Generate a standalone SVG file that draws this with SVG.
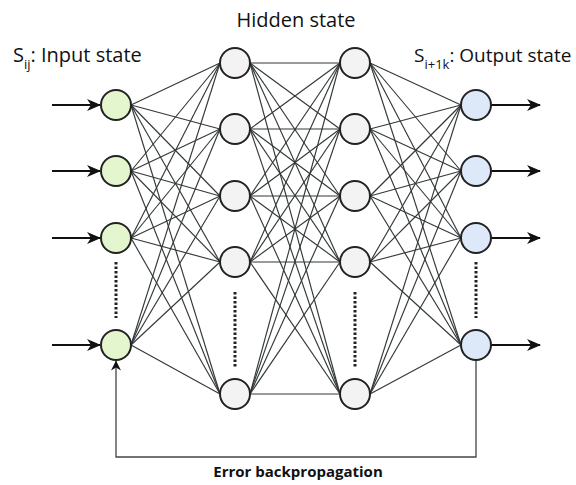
<svg xmlns="http://www.w3.org/2000/svg" width="576" height="485" viewBox="0 0 576 485">
<style>
.lbl{font-family:"Open Sans","Liberation Sans",sans-serif;font-size:20px;fill:#111}
.lbl2{font-family:"Open Sans","Liberation Sans",sans-serif;font-size:19px;fill:#111}
.sub{font-size:13px}
.err{font-family:"Open Sans","Liberation Sans",sans-serif;font-size:15px;font-weight:bold;fill:#111}
.conn line{stroke:#333838;stroke-width:1.15}
.arr{stroke:#111;stroke-width:2.2;fill:none}
.loop{stroke:#444;stroke-width:1.3;fill:none}
.node{stroke:#222;stroke-width:2}
.in{fill:#e3f6cd}
.hid{fill:#f3f3f3}
.out{fill:#dde9f8}
.dots{stroke:#222;stroke-width:3;stroke-dasharray:2.5 2}
</style>
<defs>
<marker id="ah" markerUnits="userSpaceOnUse" markerWidth="14" markerHeight="12" viewBox="0 0 14 12" refX="13" refY="6" orient="auto">
<path d="M0,0 L14,6 L0,12 L4,6 z" fill="#111"/>
</marker>
<marker id="ahs" markerUnits="userSpaceOnUse" markerWidth="10" markerHeight="10" viewBox="0 0 10 10" refX="9.5" refY="5" orient="auto">
<path d="M0,0 L10,5 L0,10 L3,5 z" fill="#111"/>
</marker>
</defs>
<rect width="576" height="485" fill="#fff"/>
<g id="connectors" class="conn">
<line x1="131" y1="105" x2="220" y2="63"/><line x1="131" y1="105" x2="220" y2="129"/><line x1="131" y1="105" x2="220" y2="196"/><line x1="131" y1="105" x2="220" y2="262"/><line x1="131" y1="105" x2="220" y2="394"/>
<line x1="131" y1="171" x2="220" y2="63"/><line x1="131" y1="171" x2="220" y2="129"/><line x1="131" y1="171" x2="220" y2="196"/><line x1="131" y1="171" x2="220" y2="262"/><line x1="131" y1="171" x2="220" y2="394"/>
<line x1="131" y1="238" x2="220" y2="63"/><line x1="131" y1="238" x2="220" y2="129"/><line x1="131" y1="238" x2="220" y2="196"/><line x1="131" y1="238" x2="220" y2="262"/><line x1="131" y1="238" x2="220" y2="394"/>
<line x1="131" y1="345" x2="220" y2="63"/><line x1="131" y1="345" x2="220" y2="129"/><line x1="131" y1="345" x2="220" y2="196"/><line x1="131" y1="345" x2="220" y2="262"/><line x1="131" y1="345" x2="220" y2="394"/>
<line x1="250" y1="63" x2="340" y2="63"/><line x1="250" y1="63" x2="340" y2="129"/><line x1="250" y1="63" x2="340" y2="196"/><line x1="250" y1="63" x2="340" y2="262"/><line x1="250" y1="63" x2="340" y2="394"/>
<line x1="250" y1="129" x2="340" y2="63"/><line x1="250" y1="129" x2="340" y2="129"/><line x1="250" y1="129" x2="340" y2="196"/><line x1="250" y1="129" x2="340" y2="262"/><line x1="250" y1="129" x2="340" y2="394"/>
<line x1="250" y1="196" x2="340" y2="63"/><line x1="250" y1="196" x2="340" y2="129"/><line x1="250" y1="196" x2="340" y2="196"/><line x1="250" y1="196" x2="340" y2="262"/><line x1="250" y1="196" x2="340" y2="394"/>
<line x1="250" y1="262" x2="340" y2="63"/><line x1="250" y1="262" x2="340" y2="129"/><line x1="250" y1="262" x2="340" y2="196"/><line x1="250" y1="262" x2="340" y2="262"/><line x1="250" y1="262" x2="340" y2="394"/>
<line x1="250" y1="394" x2="340" y2="63"/><line x1="250" y1="394" x2="340" y2="129"/><line x1="250" y1="394" x2="340" y2="196"/><line x1="250" y1="394" x2="340" y2="262"/><line x1="250" y1="394" x2="340" y2="394"/>
<line x1="370" y1="63" x2="461" y2="105"/><line x1="370" y1="63" x2="461" y2="171"/><line x1="370" y1="63" x2="461" y2="238"/><line x1="370" y1="63" x2="461" y2="345"/>
<line x1="370" y1="129" x2="461" y2="105"/><line x1="370" y1="129" x2="461" y2="171"/><line x1="370" y1="129" x2="461" y2="238"/><line x1="370" y1="129" x2="461" y2="345"/>
<line x1="370" y1="196" x2="461" y2="105"/><line x1="370" y1="196" x2="461" y2="171"/><line x1="370" y1="196" x2="461" y2="238"/><line x1="370" y1="196" x2="461" y2="345"/>
<line x1="370" y1="262" x2="461" y2="105"/><line x1="370" y1="262" x2="461" y2="171"/><line x1="370" y1="262" x2="461" y2="238"/><line x1="370" y1="262" x2="461" y2="345"/>
<line x1="370" y1="394" x2="461" y2="105"/><line x1="370" y1="394" x2="461" y2="171"/><line x1="370" y1="394" x2="461" y2="238"/><line x1="370" y1="394" x2="461" y2="345"/>
<path class="arr" d="M52,105 H100" marker-end="url(#ah)"/>
<path class="arr" d="M52,171 H100" marker-end="url(#ah)"/>
<path class="arr" d="M52,238 H100" marker-end="url(#ah)"/>
<path class="arr" d="M52,345 H100" marker-end="url(#ah)"/>
<path class="arr" d="M491,105 H540" marker-end="url(#ah)"/>
<path class="arr" d="M491,171 H540" marker-end="url(#ah)"/>
<path class="arr" d="M491,238 H540" marker-end="url(#ah)"/>
<path class="arr" d="M491,345 H540" marker-end="url(#ah)"/>
<path class="loop" d="M476,361 V457 H116 V361" marker-end="url(#ahs)"/>
</g>
<g id="input-layer">
<circle class="node in" cx="116" cy="105" r="15"/>
<circle class="node in" cx="116" cy="171" r="15"/>
<circle class="node in" cx="116" cy="238" r="15"/>
<line class="dots" x1="116" y1="262" x2="116" y2="318"/>
<circle class="node in" cx="116" cy="345" r="15"/>
</g>
<g id="hidden-layer-1">
<circle class="node hid" cx="235" cy="63" r="15"/>
<circle class="node hid" cx="235" cy="129" r="15"/>
<circle class="node hid" cx="235" cy="196" r="15"/>
<circle class="node hid" cx="235" cy="262" r="15"/>
<line class="dots" x1="235" y1="292" x2="235" y2="367"/>
<circle class="node hid" cx="235" cy="394" r="15"/>
</g>
<g id="hidden-layer-2">
<circle class="node hid" cx="355" cy="63" r="15"/>
<circle class="node hid" cx="355" cy="129" r="15"/>
<circle class="node hid" cx="355" cy="196" r="15"/>
<circle class="node hid" cx="355" cy="262" r="15"/>
<line class="dots" x1="355" y1="292" x2="355" y2="367"/>
<circle class="node hid" cx="355" cy="394" r="15"/>
</g>
<g id="output-layer">
<circle class="node out" cx="476" cy="105" r="15"/>
<circle class="node out" cx="476" cy="171" r="15"/>
<circle class="node out" cx="476" cy="238" r="15"/>
<line class="dots" x1="476" y1="262" x2="476" y2="318"/>
<circle class="node out" cx="476" cy="345" r="15"/>
</g>
<g id="labels">
<text class="lbl" x="296" y="27" text-anchor="middle">Hidden state</text>
<text class="lbl" x="13" y="62">S<tspan class="sub" dy="7">ij</tspan><tspan dy="-7">: Input state</tspan></text>
<text class="lbl2" x="414" y="62">S<tspan class="sub" dy="7">i+1k</tspan><tspan dy="-7">: Output state</tspan></text>
<text class="err" x="298" y="477" text-anchor="middle">Error backpropagation</text>
</g>
</svg>
